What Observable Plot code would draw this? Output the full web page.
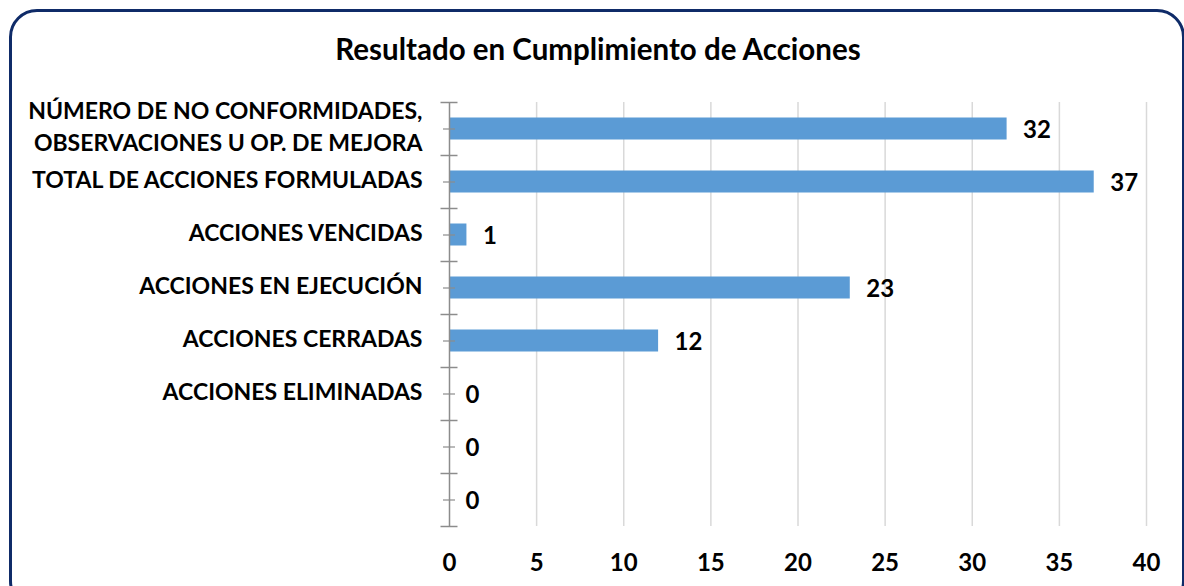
<!DOCTYPE html>
<html>
<head>
<meta charset="utf-8">
<script src="https://cdn.jsdelivr.net/npm/d3@7"></script>
<script src="https://cdn.jsdelivr.net/npm/@observablehq/plot@0.6"></script>
<style>
  html, body { margin: 0; padding: 0; background: #fff; overflow: hidden; }
  #wrap { position: relative; width: 1184px; height: 586px; overflow: hidden; font-family: Lato, "Noto Sans", sans-serif; }
  #frame { position: absolute; left: 9px; top: 9px; width: 1176px; height: 600px; box-sizing: border-box;
           border: 3.5px solid #0f2b68; border-radius: 28px; z-index: 2; pointer-events: none; }
  #title { position: absolute; left: 0; top: 31px; width: 1196px; text-align: center; font-weight: 700;
           font-size: 29.5px; line-height: 36px; color: #000; }
  #chart { position: absolute; left: 0; top: 0; }
</style>
</head>
<body>
<div id="wrap">
  <div id="chart"></div>
  <div id="title">Resultado en Cumplimiento de Acciones</div>
  <div id="frame"></div>
</div>
<script>
const categories = [
  "NÚMERO DE NO CONFORMIDADES,\nOBSERVACIONES U OP. DE MEJORA",
  "TOTAL DE ACCIONES FORMULADAS",
  "ACCIONES VENCIDAS",
  "ACCIONES EN EJECUCIÓN",
  "ACCIONES CERRADAS",
  "ACCIONES ELIMINADAS",
  "",
  ""
];
const values = [32, 37, 1, 23, 12, 0, 0, 0];
const xTicks = [0, 5, 10, 15, 20, 25, 30, 35, 40];

const ids = categories.map((_, i) => i);
const data = ids.map(i => ({id: i, label: categories[i], value: values[i]}));
const bandPx = (586 - 102 - 60) / ids.length;

const chart = Plot.plot({
  width: 1184,
  height: 586,
  marginLeft: 449,
  marginRight: 38,
  marginTop: 102,
  marginBottom: 60,
  style: {background: "transparent", fontFamily: "Lato, 'Noto Sans', sans-serif", fontWeight: "bold", color: "#000"},
  x: {domain: [0, 40], ticks: xTicks},
  y: {domain: ids, padding: 0},
  marks: [
    Plot.gridX(xTicks.filter(d => d > 0), {stroke: "#d9d9d9", strokeOpacity: 1, strokeWidth: 1.5}),
    Plot.barX(data, {x: "value", y: "id", fill: "#5b9bd5", insetTop: 15.5, insetBottom: 15.5}),
    Plot.ruleX([0], {stroke: "#8c8c8c", strokeWidth: 1.5}),
    // major ticks at category boundaries
    Plot.ruleY(ids, {y: d => d, x1: 0, x2: 0, dy: -bandPx / 2, insetLeft: -8.5, insetRight: -8.5, stroke: "#8c8c8c", strokeWidth: 1.5}),
    Plot.ruleY([ids[ids.length - 1]], {y: d => d, x1: 0, x2: 0, dy: bandPx / 2, insetLeft: -8.5, insetRight: -8.5, stroke: "#8c8c8c", strokeWidth: 1.5}),
    // minor ticks at category centers
    Plot.ruleY(ids, {y: d => d, x1: 0, x2: 0, insetLeft: -6, insetRight: -6, stroke: "#8c8c8c", strokeWidth: 1.2}),
    Plot.axisY({tickSize: 0, tickPadding: 27, tickFormat: i => categories[i], fontSize: 23, lineHeight: 1.4, dy: -4, fill: "#000", label: null}),
    Plot.axisX({ticks: xTicks, tickSize: 0, tickPadding: 27, fontSize: 24, fill: "#000", label: null}),
    Plot.text(data, {x: "value", y: "id", text: d => String(d.value), dx: 16, dy: 1, textAnchor: "start", fontSize: 24, fontWeight: "bold", fill: "#000"})
  ]
});
document.getElementById("chart").appendChild(chart);
</script>
</body>
</html>
